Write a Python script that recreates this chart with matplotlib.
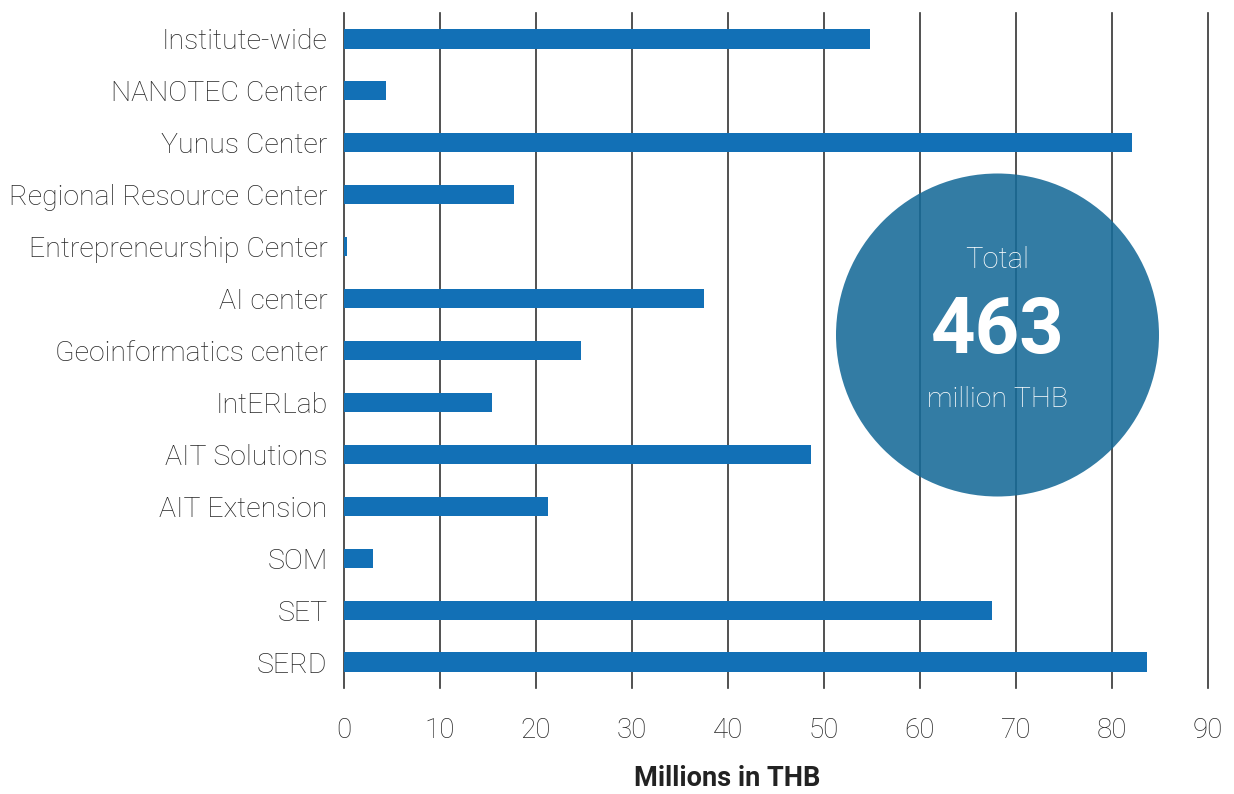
import matplotlib
matplotlib.use("Agg")
import matplotlib.pyplot as plt
from matplotlib.patches import Circle

plt.rcParams['font.family'] = ['Roboto', 'DejaVu Sans']

categories = ["Institute-wide", "NANOTEC Center", "Yunus Center", "Regional Resource Center",
              "Entrepreneurship Center", "AI center", "Geoinformatics center", "IntERLab",
              "AIT Solutions", "AIT Extension", "SOM", "SET", "SERD"]
values = [54.8, 4.4, 82.1, 17.7, 0.4, 37.5, 24.7, 15.5, 48.7, 21.3, 3.1, 67.5, 83.6]
xticks = [0, 10, 20, 30, 40, 50, 60, 70, 80, 90]
total_label = "463"

W, H = 1234, 794
fig = plt.figure(figsize=(W / 100, H / 100), dpi=100)
left, right, top, bottom = 343.5, 1208, 13, 688
ax = fig.add_axes([left / W, (H - bottom) / H, (right - left) / W, (bottom - top) / H])

n = len(categories)
ypos = list(range(n - 1, -1, -1))
ax.barh(ypos, values, height=0.37, color='#1270B6', zorder=2)

ax.set_xlim(0, 90)
ax.set_ylim(-0.5, n - 0.5)
ax.set_xticks(xticks)
ax.set_xticklabels([str(t) for t in xticks], fontsize=20, fontweight='light', color='#262626')
ax.set_yticks(ypos)
ax.set_yticklabels(categories, fontsize=20.5, fontweight='light', color='#262626')
ax.tick_params(axis='x', length=0, pad=21)
ax.tick_params(axis='y', length=0, pad=11.5)
for s in ax.spines.values():
    s.set_visible(False)
ax.grid(axis='x', color='#333333', linewidth=1.2, zorder=1)
ax.grid(axis='y', visible=False)
ax.set_axisbelow(True)
for gl in ax.get_xgridlines():
    gl.set_clip_on(False)

# Total circle (pixel-based placement)
circ = Circle((997.5 / 100, (H - 335) / 100), 1.615, transform=fig.dpi_scale_trans,
              facecolor=(22 / 255, 106 / 255, 152 / 255), alpha=0.88, edgecolor='none',
              zorder=5, clip_on=False)
ax.add_patch(circ)

fig.text(997.5 / W, (H - 268.3) / H, "Total", ha='center', va='baseline', fontsize=21,
         fontweight='light', color='white', zorder=6)
fig.text(997.5 / W, (H - 352.7) / H, total_label, ha='center', va='baseline', fontsize=56,
         fontweight='bold', color='white', zorder=6)
fig.text(997.5 / W, (H - 407.3) / H, "million THB", ha='center', va='baseline', fontsize=20.5,
         fontweight='light', color='white', zorder=6)

fig.text(727 / W, (H - 786) / H, "Millions in THB", ha='center', va='baseline', fontsize=19.5,
         fontweight='bold', color='#222222')

fig.savefig("out.png", dpi=100)
